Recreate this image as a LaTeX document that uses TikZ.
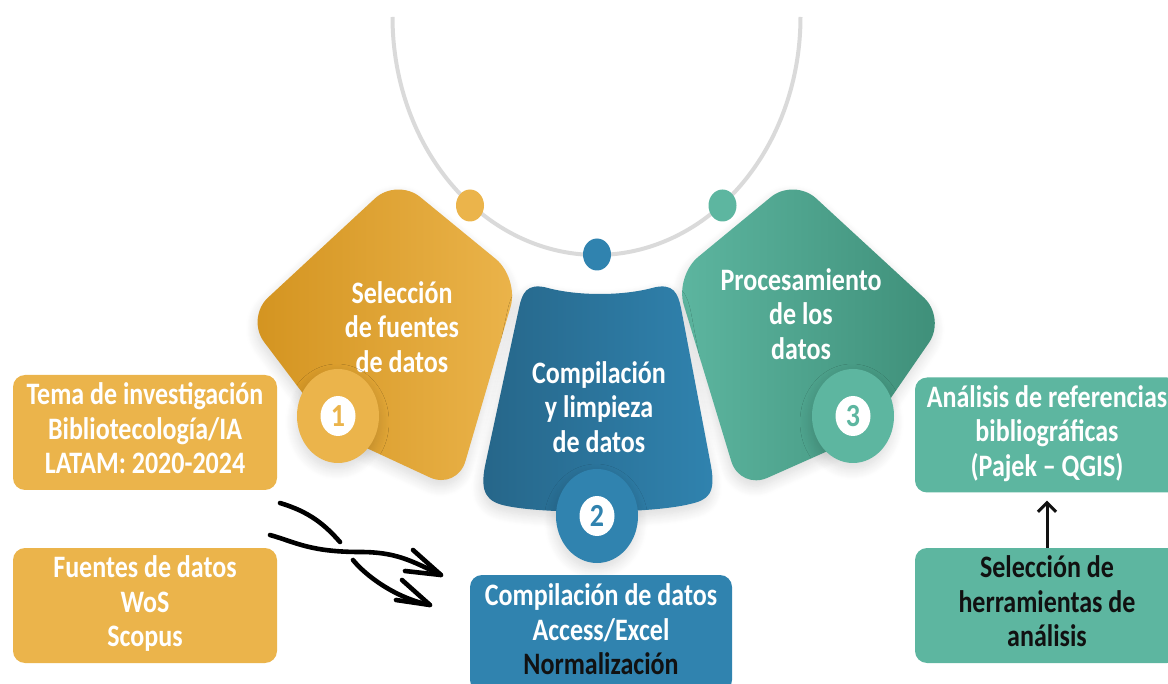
\documentclass[tikz,border=0pt]{standalone}
\usepackage{fontspec}
\setmainfont{Carlito}
\usepackage{graphicx}
\usetikzlibrary{arrows.meta,shapes.geometric,shadows.blur}
\definecolor{ora}{HTML}{EBB44B}
\definecolor{oraD}{HTML}{D3931F}
\definecolor{tea}{HTML}{5DB6A0}
\definecolor{teaD}{HTML}{3E8E78}
\definecolor{blu}{HTML}{3083AF}
\definecolor{bluD}{HTML}{266689}
\definecolor{arcg}{HTML}{DADADA}
\definecolor{ink}{HTML}{111111}
\newcommand\vtext[1]{\scalebox{1}[1.2]{\begin{tabular}{@{}c@{}}#1\end{tabular}}}
\begin{document}
\begin{tikzpicture}[x=1pt,y=-1pt,
  sh/.style={blur shadow={shadow xshift=-1pt,shadow yshift=-6pt,shadow blur radius=11pt,shadow opacity=15,shadow blur steps=12}},
  big/.style={font=\fontsize{26}{28.75}\selectfont\bfseries, text=white, inner sep=0pt},
  box/.style={rectangle, rounded corners=12pt, minimum width=264pt, minimum height=115pt, inner sep=0pt, font=\fontsize{26}{28.75}\selectfont\bfseries},
  dot/.style={ellipse, minimum width=28pt, minimum height=32pt, inner sep=0pt},
  ring/.style={ellipse, minimum width=82pt, minimum height=94pt, inner sep=0pt, sh},
  hole/.style={ellipse, fill=white, minimum width=35pt, minimum height=40pt, inner sep=0pt},
  num/.style={font=\fontsize{28}{30}\selectfont\bfseries, inner sep=0pt},
  hand/.style={line width=4.6pt, line cap=round, line join=round, black}
]
\useasboundingbox (0,0) rectangle (1168,684);
\clip (0,0) rectangle (1168,684);

% grey arc
\draw[arcg, line width=4pt] plot[domain=180:360, samples=120, smooth] ({596.5+204*cos(\x)}, {17-238*sin(\x)});
\node[dot, fill=ora] (d1) at (470,205.5) {};
\node[dot, fill=tea] (d3) at (722.5,205.5) {};
\node[dot, fill=blu] (d2) at (597,254.5) {};

% pentagon 1
\shade[sh, left color=oraD, right color=ora, rounded corners=30pt]
  (397,178) -- (519,278) -- (457,490) -- (332,432) -- (246,318) -- cycle;
% pentagon 3
\shade[sh, left color=tea, right color=teaD, rounded corners=30pt]
  (794,178) -- (946,318) -- (866,434) -- (740,490) -- (675,276) -- cycle;
% blue shape
\shade[sh, left color=bluD, right color=blu]
  (548,288) .. controls (578,296) and (622,296) .. (652,288)
  .. controls (674,282) and (678,294) .. (681,308) -- (711,466)
  .. controls (716,494) and (708,500) .. (690,504)
  .. controls (650,514) and (545,514) .. (507,506)
  .. controls (486,502) and (480,492) .. (485,466) -- (519,308)
  .. controls (522,294) and (526,282) .. (548,288) -- cycle;

\node[big] (t1) at (402,331) {\vtext{Selección\\de fuentes\\de datos}};
\node[big] (t2) at (599,411) {\vtext{Compilación\\y limpieza\\de datos}};
\node[big] (t3) at (801,318) {\vtext{Procesamiento\\de los\\datos}};

% numbered circles
\node[ring, fill=ora] (c1) at (338,416) {};
\node[hole] (h1) at (c1) {};
\node[num, text=ora] (n1) at (h1) {\scalebox{1}[1.15]{1}};
\node[ring, fill=blu] (c2) at (597,516) {};
\node[hole] (h2) at (c2) {};
\node[num, text=blu] (n2) at (h2) {\scalebox{1}[1.15]{2}};
\node[ring, fill=tea] (c3) at (853,416) {};
\node[hole] (h3) at (c3) {};
\node[num, text=tea] (n3) at (h3) {\scalebox{1}[1.15]{3}};

% boxes
\node[box, fill=ora, text=white] (A) at (145,432.5) {\vtext{Tema de investigación\\Bibliotecología/IA\\LATAM: 2020-2024}};
\node[box, fill=ora, text=white] (B) at (145,605.5) {\vtext{Fuentes de datos\\WoS\\Scopus}};
\node[box, fill=blu, text=white, minimum width=262pt, minimum height=117pt] (E) at (601,633.5) {\vtext{Compilación de datos\\Access/Excel\\\textcolor{ink}{Normalización}}};
\node[box, fill=tea, text=white] (C) at (1047,435) {\vtext{Análisis de referencias\\bibliográficas\\(Pajek – QGIS)}};
\node[box, fill=tea, text=ink] (D) at (1047,605.5) {\vtext{Selección de\\herramientas de\\análisis}};

% arrow D -> C
\draw[ink, line width=3pt, -{Straight Barb[length=9pt,width=18pt,line width=3pt]}, shorten >=8pt] (D.north) -- (C.south);

% hand-drawn arrows
\coordinate (p2s) at (280,503);
\coordinate (p2e) at (430,605);
\coordinate (p1s) at (270,535);
\coordinate (p1e) at (441,575);
\draw[hand] (p2s) .. controls (310,512) and (325,525) .. (340,542);
\draw[hand] (353,560) .. controls (365,575) and (395,598) .. (p2e);
\draw[hand] (402,580) -- (p2e) -- (396,600);
\draw[hand] (p1s) .. controls (295,542) and (310,552) .. (360,552) .. controls (395,552) and (410,560) .. (p1e);
\draw[hand] (413,550) -- (p1e) -- (405,571);
\end{tikzpicture}
\end{document}
